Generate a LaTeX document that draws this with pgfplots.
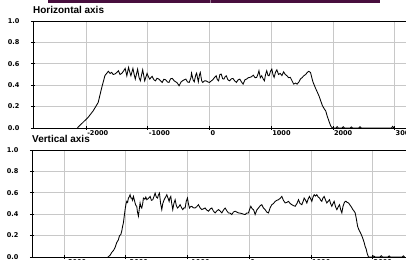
\documentclass[border=0pt]{standalone}
\usepackage{pgfplots}
\pgfplotsset{compat=1.18}
\usepackage{fontspec}
\setmainfont{DejaVu Sans}
\newfontfamily\titlefont{Liberation Sans}
\definecolor{gridc}{RGB}{200,200,200}
\definecolor{barc}{RGB}{72,14,62}

\pgfplotstableread{
x y
-2140 0
-2131 0.006
-2049 0.053
-1967 0.099
-1885 0.16
-1803 0.239
-1749 0.37
-1694 0.49
-1639 0.53
-1610 0.51
-1585 0.52
-1560 0.50
-1530 0.505
-1500 0.52
-1475 0.535
-1450 0.50
-1421 0.51
-1395 0.53
-1366 0.557
-1339 0.488
-1311 0.566
-1290 0.52
-1273 0.488
-1240 0.557
-1220 0.50
-1202 0.457
-1164 0.55
-1140 0.47
-1120 0.441
-1082 0.544
-1049 0.441
-1011 0.51
-990 0.48
-967 0.457
-950 0.47
-929 0.482
-900 0.45
-874 0.441
-850 0.465
-820 0.457
-790 0.44
-765 0.426
-740 0.455
-710 0.451
-680 0.43
-656 0.426
-630 0.46
-601 0.463
-570 0.44
-546 0.432
-520 0.42
-492 0.395
-460 0.43
-437 0.441
-410 0.45
-382 0.457
-355 0.43
-328 0.426
-300 0.47
-290 0.513
-265 0.45
-246 0.432
-220 0.50
-208 0.513
-190 0.46
-180 0.432
-160 0.50
-148 0.519
-125 0.44
-109 0.426
-80 0.44
-55 0.441
-25 0.43
0 0.426
30 0.44
55 0.451
80 0.47
109 0.488
130 0.45
148 0.441
170 0.50
191 0.504
215 0.46
235 0.457
255 0.48
273 0.488
300 0.45
328 0.441
355 0.46
382 0.463
410 0.44
437 0.426
465 0.45
492 0.457
520 0.43
546 0.41
575 0.45
601 0.457
630 0.47
656 0.473
685 0.48
710 0.494
740 0.47
765 0.473
785 0.50
803 0.535
825 0.47
847 0.488
870 0.46
891 0.441
910 0.50
929 0.535
950 0.49
967 0.488
990 0.53
1011 0.55
1030 0.50
1049 0.473
1070 0.52
1093 0.544
1120 0.50
1147 0.51
1175 0.49
1202 0.525
1230 0.50
1257 0.488
1285 0.47
1311 0.473
1340 0.44
1366 0.41
1395 0.42
1421 0.41
1450 0.43
1475 0.457
1500 0.47
1530 0.488
1560 0.50
1585 0.519
1610 0.53
1639 0.519
1660 0.47
1678 0.43
1700 0.40
1721 0.37
1745 0.34
1776 0.30
1800 0.26
1831 0.21
1860 0.18
1885 0.16
1910 0.11
1940 0.06
1965 0.02
1984 0.006
2000 0
2050 0
2070 0.012
2090 0
2150 0
2170 0.012
2190 0
2280 0
2300 0.01
2320 0
2420 0
2440 0.012
2460 0
2950 0
2970 0.015
2990 0
}\horiz

\pgfplotstableread{
x y
-2290 0
-2281 0.003
-2250 0.02
-2227 0.043
-2200 0.06
-2173 0.089
-2146 0.135
-2120 0.16
-2103 0.197
-2080 0.21
-2065 0.243
-2050 0.29
-2038 0.32
-2025 0.38
-2011 0.443
-1995 0.50
-1984 0.52
-1970 0.51
-1957 0.551
-1945 0.56
-1930 0.582
-1915 0.55
-1903 0.551
-1890 0.53
-1876 0.566
-1860 0.53
-1849 0.505
-1835 0.48
-1822 0.474
-1810 0.42
-1795 0.382
-1780 0.45
-1768 0.505
-1755 0.47
-1741 0.458
-1725 0.50
-1714 0.551
-1690 0.54
-1675 0.56
-1659 0.535
-1630 0.55
-1605 0.566
-1585 0.53
-1562 0.535
-1540 0.57
-1524 0.597
-1505 0.56
-1486 0.551
-1470 0.58
-1454 0.597
-1435 0.50
-1416 0.443
-1400 0.50
-1378 0.535
-1355 0.56
-1335 0.582
-1315 0.55
-1297 0.52
-1285 0.55
-1270 0.566
-1255 0.50
-1238 0.443
-1220 0.50
-1200 0.535
-1180 0.48
-1162 0.458
-1140 0.47
-1119 0.489
-1095 0.46
-1076 0.443
-1055 0.46
-1038 0.458
-1020 0.52
-1000 0.551
-985 0.50
-968 0.458
-950 0.47
-930 0.474
-905 0.46
-876 0.458
-850 0.47
-822 0.489
-795 0.46
-768 0.443
-740 0.45
-714 0.458
-690 0.44
-659 0.428
-630 0.45
-605 0.458
-580 0.43
-551 0.412
-525 0.43
-497 0.443
-470 0.43
-443 0.412
-415 0.44
-389 0.458
-360 0.43
-335 0.412
-310 0.41
-281 0.397
-255 0.42
-227 0.428
-200 0.42
-173 0.412
-145 0.41
-119 0.406
-90 0.40
-65 0.397
-40 0.41
-11 0.412
10 0.45
27 0.474
50 0.45
70 0.443
85 0.42
97 0.397
125 0.44
151 0.458
180 0.48
205 0.489
230 0.46
259 0.443
285 0.42
313 0.412
340 0.46
368 0.489
395 0.50
422 0.520
450 0.53
476 0.535
505 0.55
530 0.566
555 0.53
584 0.505
610 0.51
638 0.520
665 0.50
692 0.489
720 0.48
746 0.474
775 0.50
800 0.535
825 0.50
854 0.489
875 0.52
892 0.551
915 0.53
935 0.505
955 0.54
978 0.566
1000 0.54
1016 0.520
1035 0.56
1054 0.582
1075 0.57
1097 0.582
1120 0.56
1141 0.551
1160 0.53
1178 0.520
1195 0.55
1216 0.566
1240 0.53
1259 0.505
1280 0.52
1303 0.535
1320 0.50
1340 0.474
1360 0.50
1378 0.520
1400 0.47
1422 0.443
1445 0.47
1465 0.489
1485 0.44
1503 0.412
1520 0.47
1540 0.505
1557 0.52
1573 0.520
1590 0.51
1611 0.505
1630 0.49
1649 0.474
1665 0.46
1681 0.443
1700 0.43
1719 0.412
1740 0.35
1757 0.289
1775 0.26
1789 0.243
1810 0.22
1827 0.197
1845 0.17
1865 0.135
1880 0.10
1897 0.074
1915 0.03
1935 0
2000 0
2020 0.01
2040 0
2120 0
2140 0.012
2160 0
2250 0
2270 0.01
2290 0
2480 0
2500 0.01
2520 0
}\vert

\pgfplotsset{
  myax/.style={
    scale only axis, width=380bp, height=107bp, anchor=south west,
    ymin=0, ymax=1, ytick={0,0.2,0.4,0.6,0.8,1},
    grid=major, major grid style={gridc, line width=0.6bp},
    axis line style={black, line width=0.7bp},
    tick style={black, line width=0.6bp}, major tick length=4bp, tick align=center,
    xtick pos=bottom, ytick pos=left,
    tick label style={font=\bfseries\fontsize{6.6}{7.5}\selectfont},
    /pgf/number format/assume math mode=true,
    /pgf/number format/1000 sep={},
    yticklabel style={/pgf/number format/fixed, /pgf/number format/fixed zerofill,
      /pgf/number format/precision=1, xshift=-8bp},
    xticklabel style={anchor=north west, inner xsep=0pt, inner ysep=0.5bp, xshift=1bp},
    title style={at={(0,1)}, anchor=south west, inner sep=0pt, yshift=1.5bp,
      font=\titlefont\bfseries\fontsize{10}{11}\selectfont},
  }
}

\begin{document}
\begin{tikzpicture}
\useasboundingbox (0,0) rectangle (406bp,260bp);
\clip (0,0) rectangle (406bp,260bp);
\fill[barc] (48bp,257bp) rectangle (380bp,260bp);
\draw[barc!55!white, line width=0.6bp] (210bp,257bp) -- (210bp,260bp);
\begin{axis}[myax, at={(33bp,132bp)}, xmin=-2860, xmax=3300,
  xtick={-2000,-1000,0,1000,2000,3000}, title={Horizontal axis}]
\addplot[black, line width=0.85bp] table[x=x, y=y] {\horiz};
\end{axis}
\begin{axis}[myax, at={(32bp,3bp)}, xmin=-3520, xmax=2640,
  xtick={-3000,-2000,-1000,0,1000,2000}, title={Vertical axis}]
\addplot[black, line width=0.85bp] table[x=x, y=y] {\vert};
\end{axis}
\end{tikzpicture}
\end{document}
